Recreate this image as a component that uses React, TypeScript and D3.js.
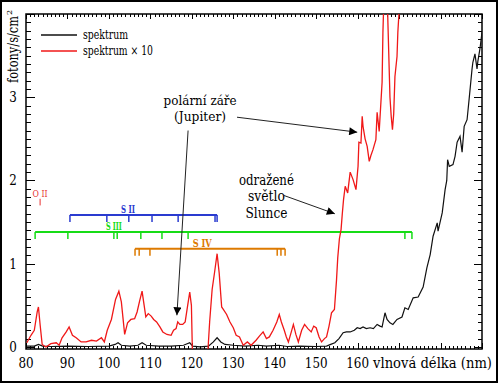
import React, { useEffect, useRef } from 'react';
import * as d3 from 'd3';

// spektrum × 10 (červená), [nm, hodnota]
const redNm = [80.2, 81.2, 82.0, 82.7, 83.0, 83.4, 83.9, 84.8, 86.0, 87.3, 88.0, 88.7, 89.7, 90.4, 91.2, 92.1, 93.3, 94.5, 95.8, 97.0, 98.2, 98.9, 99.6, 100.6, 101.6, 102.4, 103.0, 103.8, 104.5, 105.3, 106.2, 106.8, 107.4, 108.0, 108.5, 108.9, 109.5, 110.2, 110.8, 111.5, 112.3, 113.0, 114.0, 115.0, 115.6, 116.2, 116.6, 117.1, 117.8, 118.4, 119.0, 119.5, 119.9, 120.2, 123.7, 124.3, 124.9, 125.5, 126.1, 126.6, 127.2, 127.6, 128.4, 129.2, 130.0, 130.7, 131.5, 132.4, 133.4, 134.3, 135.5, 136.3, 137.2, 138.0, 138.7, 139.6, 140.5, 141.1, 141.6, 142.3, 142.8, 143.3, 144.0, 144.5, 145.1, 145.7, 146.5, 147.2, 148.0, 148.8, 149.4, 150.0, 150.7, 151.3, 152.0, 152.5, 153.1, 153.7, 154.4, 154.9, 155.2, 155.6, 156.0, 156.3, 156.6, 157.0, 157.6, 158.2, 158.9, 159.6, 160.1, 160.3, 160.8, 161.1, 161.3, 161.8, 162.3, 162.8, 163.2, 163.7, 164.4, 164.7, 165.2, 165.9, 166.1, 166.4, 167.0, 167.3, 167.8, 168.1, 168.4, 168.7, 169.0, 169.5, 169.7, 170.2, 170.6];
const redVal = [0.05, 0.14, 0.2, 0.42, 0.48, 0.27, 0.03, 0.0, 0.04, 0.05, 0.02, 0.11, 0.18, 0.24, 0.14, 0.11, 0.06, 0.06, 0.08, 0.07, 0.11, 0.06, 0.2, 0.33, 0.57, 0.67, 0.54, 0.15, 0.29, 0.33, 0.34, 0.42, 0.55, 0.67, 0.5, 0.36, 0.4, 0.37, 0.33, 0.3, 0.24, 0.18, 0.15, 0.14, 0.2, 0.22, 0.3, 0.27, 0.27, 0.3, 0.5, 0.66, 0.5, -0.2, -0.2, 0.3, 0.69, 0.9, 1.12, 0.89, 0.48, 0.45, 0.39, 0.3, 0.23, 0.14, 0.12, 0.02, 0.06, 0.02, 0.08, 0.13, 0.18, 0.1, 0.12, 0.2, 0.3, 0.39, 0.3, 0.2, 0.12, 0.06, 0.18, 0.27, 0.15, 0.06, 0.2, 0.27, 0.22, 0.18, 0.25, 0.23, 0.12, 0.06, 0.1, 0.12, 0.25, 0.41, 0.45, 0.8, 1.07, 1.3, 1.41, 1.6, 1.77, 1.93, 1.85, 2.1, 2.01, 1.89, 2.17, 2.46, 2.45, 2.77, 2.65, 2.5, 2.41, 2.23, 2.3, 2.37, 2.49, 2.82, 2.59, 3.18, 3.78, 4.3, 4.5, 3.9, 3.0, 2.77, 2.61, 2.8, 3.25, 3.49, 3.78, 4.2, 4.6];

// spektrum (černá)
const blackNm = [80.2, 82.0, 83.0, 84.0, 86, 90, 95, 100, 101.5, 102.2, 103, 105, 107, 108, 109, 112, 115, 118, 119.5, 120.2, 122, 124, 125.2, 126.1, 127, 128, 130, 133, 136, 138, 141, 143, 146, 150, 152.5, 153.5, 154.5, 155.5, 156.5, 157.3, 158.2, 159.2, 159.9, 160.6, 161.3, 162.1, 163.0, 163.8, 164.7, 165.4, 165.9, 166.6, 167.1, 167.8, 168.5, 169.5, 170.7, 171.4, 172.2, 173.4, 174.6, 175.8, 176.7, 177.5, 178.2, 179.2, 179.4, 180.4, 181.1, 181.5, 181.7, 182.1, 183.0, 183.5, 184.0, 184.7, 185.2, 185.7, 186.4, 186.9, 187.6, 187.8, 188.3, 188.8, 189.0, 189.5, 190.0];
const blackVal = [0.01, 0.01, 0.03, 0.01, 0.005, 0.01, 0.005, 0.01, 0.03, 0.05, 0.02, 0.01, 0.02, 0.05, 0.02, 0.01, 0.01, 0.02, 0.05, 0.01, 0.0, 0.01, 0.06, 0.11, 0.06, 0.03, 0.02, 0.01, 0.02, 0.01, 0.02, 0.005, 0.01, 0.005, 0.01, 0.03, 0.05, 0.1, 0.17, 0.18, 0.18, 0.2, 0.23, 0.22, 0.24, 0.22, 0.23, 0.22, 0.27, 0.25, 0.24, 0.41, 0.33, 0.29, 0.27, 0.33, 0.36, 0.47, 0.45, 0.59, 0.6, 0.72, 0.95, 1.11, 1.33, 1.49, 1.39, 1.61, 1.89, 2.0, 2.25, 2.17, 2.19, 2.29, 2.46, 2.53, 2.34, 2.65, 2.73, 2.98, 3.34, 3.42, 3.52, 3.34, 3.43, 3.58, 3.78];

const xTickLabels = [80, 90, 100, 110, 120, 130, 140, 150, 160];
const yTickLabels = [0, 1, 2, 3];

// identifikace čar
const sII = [90.6, 99.5, 104.8, 110.4, 116.7, 125.6, 126.1];
const sIII = [82.2, 90.1, 101.2, 102.0, 107.7, 112.8, 119.1, 171.4, 173.1];
const sIV = [106.3, 107.3, 109.9, 140.6, 141.5, 142.5];

const W = 500, H = 384;
const serif = 'DejaVu Serif';

function App() {
  const svgRef = useRef<SVGSVGElement>(null);

  useEffect(() => {
    const svg = d3.select(svgRef.current);
    svg.selectAll('*').remove();

    const left = 26, right = 482, top = 14, bottom = 349;
    const x = d3.scaleLinear().domain([80, 190]).range([left, right]);
    const y = d3.scaleLinear().domain([-0.025, 4]).range([bottom, top]);

    // rámeček obrázku
    svg.append('rect').attr('x', 1).attr('y', 1).attr('width', W - 4).attr('height', H - 3)
      .attr('fill', 'white').attr('stroke', '#000').attr('stroke-width', 2);

    const defs = svg.append('defs');
    defs.append('clipPath').attr('id', 'plot-clip')
      .append('rect').attr('x', left).attr('y', top).attr('width', right - left).attr('height', bottom - top);
    defs.append('marker').attr('id', 'arrow').attr('viewBox', '0 0 10 10')
      .attr('refX', 10).attr('refY', 5).attr('markerWidth', 11).attr('markerHeight', 8)
      .attr('markerUnits', 'userSpaceOnUse').attr('orient', 'auto')
      .append('path').attr('d', 'M0,0L10,5L0,10Z').attr('fill', '#000');

    // ticks
    const ax = svg.append('g').attr('stroke', '#000').attr('stroke-width', 1);
    d3.range(80, 191, 1).forEach(v => {
      const major = v % 10 === 0;
      const px = Math.round(x(v)) + 0.5;
      ax.append('line').attr('x1', px).attr('x2', px).attr('y1', bottom).attr('y2', bottom - (major ? 6 : 3));
      ax.append('line').attr('x1', px).attr('x2', px).attr('y1', top).attr('y2', top + (major ? 5 : 3));
    });
    d3.range(0, 40.5, 1).forEach(i => {
      const v = i / 10;
      const major = i % 10 === 0;
      const py = Math.round(y(v)) + 0.5;
      ax.append('line').attr('x1', left).attr('x2', left + (major ? 9 : 5)).attr('y1', py).attr('y2', py);
      ax.append('line').attr('x1', right).attr('x2', right - (major ? 8 : 4)).attr('y1', py).attr('y2', py);
    });

    svg.append('rect').attr('x', left).attr('y', top).attr('width', right - left).attr('height', bottom - top)
      .attr('fill', 'none').attr('stroke', '#000').attr('stroke-width', 1.5);

    // text s pevnou šířkou podle předlohy
    const label = (s: string, tx: number, ty: number, size: number, len: number | null, anchor = 'middle') => {
      const t = svg.append('text').attr('x', tx).attr('y', ty).attr('text-anchor', anchor)
        .attr('font-family', serif).attr('font-size', size).text(s);
      if (len) t.attr('textLength', len).attr('lengthAdjust', 'spacingAndGlyphs');
      return t;
    };

    // popisky os
    xTickLabels.forEach(d => label(String(d), x(d), 368, 14, String(d).length * 7.6));
    yTickLabels.forEach(d => label(String(d), 13, y(d) + 5, 14, 7.6));
    label('vlnová délka (nm)', 373, 368, 14, 119, 'start');

    svg.append('text').attr('transform', 'translate(18,83) rotate(-90)')
      .attr('font-family', serif).attr('font-size', 14)
      .attr('textLength', 67).attr('lengthAdjust', 'spacingAndGlyphs').text('fotony/s/cm');
    svg.append('text').attr('transform', 'translate(12,15) rotate(-90)')
      .attr('font-family', serif).attr('font-size', 8).text('2');

    // identifikační hřebeny
    const comb = (vals: number[], lv: number, color: string, name: string, labelNm: number, len: number, lo: number, hi: number) => {
      const g = svg.append('g');
      const py = y(lv);
      g.append('line').attr('x1', x(lo)).attr('x2', x(hi)).attr('y1', py).attr('y2', py)
        .attr('stroke', color).attr('stroke-width', 2);
      g.selectAll('line.t').data(vals).enter().append('line').attr('class', 't')
        .attr('x1', d => x(d)).attr('x2', d => x(d)).attr('y1', py).attr('y2', py + 7)
        .attr('stroke', color).attr('stroke-width', 1.5);
      label(name, x(labelNm), py - 2, 11, len).attr('font-weight', 'bold').attr('fill', color);
    };
    comb(sII, 1.585, '#2a3bd0', 'S II', 104.6, 14, 90.6, 126.1);
    comb(sIII, 1.38, '#16dc16', 'S III', 101.2, 16, 82.2, 173.1);
    comb(sIV, 1.18, '#dd7a00', 'S IV', 122.5, 19, 106.3, 142.5);

    label('O II', x(83.4), y(1.8), 10, 15).attr('fill', '#e83030');
    svg.append('line').attr('x1', x(83.4)).attr('x2', x(83.4)).attr('y1', y(1.78)).attr('y2', y(1.7))
      .attr('stroke', '#e83030').attr('stroke-width', 1);

    // křivky
    const line = d3.line<[number, number]>().x(d => x(d[0])).y(d => y(d[1]));
    const curves = svg.append('g').attr('clip-path', 'url(#plot-clip)');
    curves.append('path').datum(blackNm.map((n, i) => [n, blackVal[i]] as [number, number]))
      .attr('d', line).attr('fill', 'none').attr('stroke', '#111').attr('stroke-width', 1.2);
    curves.append('path').datum(redNm.map((n, i) => [n, redVal[i]] as [number, number]))
      .attr('d', line).attr('fill', 'none').attr('stroke', '#f01818').attr('stroke-width', 1.3);

    // legenda
    const leg = svg.append('g');
    ([['spektrum', '#111', 35, 45], ['spektrum × 10', '#f01818', 51, 70]] as [string, string, number, number][])
      .forEach(([t, c, ly, len]) => {
        leg.append('line').attr('x1', 41).attr('x2', 77).attr('y1', ly).attr('y2', ly)
          .attr('stroke', c).attr('stroke-width', 1.5);
        label(t, 83, ly + 4, 12, len, 'start');
      });

    // anotace
    label('polární záře', x(122), y(2.91), 13.5, 73);
    label('(Jupiter)', x(122), y(2.71), 13.5, 52);
    label('odražené', x(138), y(1.95), 14, 55);
    label('světlo', x(138), y(1.75), 14, 37);
    label('Slunce', x(138), y(1.55), 14, 42);

    const arrow = (a: [number, number], b: [number, number]) =>
      svg.append('line').attr('x1', x(a[0])).attr('y1', y(a[1])).attr('x2', x(b[0])).attr('y2', y(b[1]))
        .attr('stroke', '#222').attr('stroke-width', 1).attr('marker-end', 'url(#arrow)');
    arrow([119.1, 2.6], [116.4, 0.38]);
    arrow([130.9, 2.76], [159.9, 2.58]);
    arrow([142.2, 1.82], [154.5, 1.6]);
  }, []);

  return (
    <div style={{ position: 'absolute', left: 0, top: 0 }}>
      <svg ref={svgRef} width={W} height={H} style={{ display: 'block' }}></svg>
    </div>
  );
}

export default App;
